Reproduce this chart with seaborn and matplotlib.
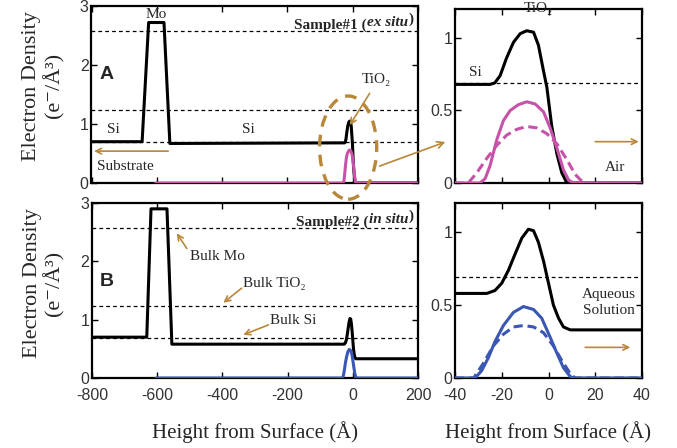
import matplotlib
matplotlib.use("Agg")
import matplotlib.pyplot as plt
import seaborn as sns
import pandas as pd
from matplotlib.patches import Ellipse, FancyArrowPatch

# ---------------- data ----------------
# Sample #1 (ex situ) total electron density profile
s1_x = [-800, -645, -625, -578, -560, -40, -25, -23, -20.7, -18, -15, -12.1, -9.3, -6.4,
        -4.3, -2.1, -0.7, 1.4, 3.6, 5.7, 7.9, 200]
s1_y = [0.70, 0.70, 2.72, 2.72, 0.67, 0.68, 0.68, 0.69, 0.74, 0.86, 0.97, 1.03, 1.05, 1.04,
        0.95, 0.77, 0.66, 0.39, 0.20, 0.07, 0.00, 0.00]
# Sample #1 TiO2 component (solid) and alternative model (dashed)
s1_ti_x = [-603, -29.3, -27.1, -25, -22.1, -19.3, -16.4, -12.9, -9.3, -5.7, -2.1, 0.7,
           3.6, 6.4, 8.6, 10.7, 200]
s1_ti_y = [0.00, 0.00, 0.03, 0.12, 0.30, 0.43, 0.50, 0.54, 0.56, 0.545, 0.49, 0.38,
           0.24, 0.09, 0.02, 0.00, 0.00]
s1_td_x = [-40, -34.3, -30.7, -26.4, -22.1, -17.9, -13.6, -9.3, -5.0, -0.7, 3.6, 7.9, 11.4, 15, 40]
s1_td_y = [0.00, 0.00, 0.07, 0.17, 0.26, 0.33, 0.37, 0.39, 0.38, 0.34, 0.27, 0.16, 0.06, 0.00, 0.00]

# Sample #2 (in situ)
s2_x = [-800, -632, -619, -570, -555, -40, -26.4, -22.9, -20, -17.1, -14.3, -11.4, -8.6,
        -6.4, -4.3, -2.1, 0, 2.1, 4.3, 6.4, 9.3, 200]
s2_y = [0.70, 0.70, 2.90, 2.90, 0.58, 0.58, 0.58, 0.60, 0.65, 0.74, 0.85, 0.96, 1.02,
        1.01, 0.93, 0.80, 0.65, 0.50, 0.41, 0.35, 0.33, 0.33]
s2_ti_x = [-603, -31.4, -28.6, -25.7, -22.9, -19.3, -15, -10.7, -6.4, -2.9, 0.7, 3.6,
           6.4, 9.3, 10.7, 200]
s2_ti_y = [0.00, 0.00, 0.05, 0.14, 0.25, 0.36, 0.45, 0.49, 0.47, 0.41, 0.28, 0.17,
           0.07, 0.01, 0.00, 0.00]
s2_td_x = [-40, -32, -27.9, -23.6, -19.3, -15, -10.7, -6.4, -2.1, 2.1, 5.7, 9.3, 11.4, 40]
s2_td_y = [0.00, 0.00, 0.10, 0.22, 0.30, 0.35, 0.36, 0.35, 0.31, 0.22, 0.12, 0.03, 0.00, 0.00]

# bulk reference densities (Mo, TiO2, Si)
bulk_levels = [2.58, 1.23, 0.69]

left_xticks = [-800, -600, -400, -200, 0, 200]
left_yticks = [0, 1, 2, 3]
right_xticks = [-40, -20, 0, 20, 40]
right_yticks = [0, 0.5, 1]

PINK = "#c653a8"
BLUE = "#3b57b4"
BROWN = "#b8873a"

sns.set_style("ticks")
plt.rcParams["font.family"] = ["Liberation Sans", "DejaVu Sans"]
plt.rcParams["axes.unicode_minus"] = False
SERIF = ["Liberation Serif", "DejaVu Serif"]

W, H = 677, 448
fig = plt.figure(figsize=(W / 100, H / 100), dpi=100)


def px_rect(l, t, r, b):
    return [l / W, 1 - b / H, (r - l) / W, (b - t) / H]


axA = fig.add_axes(px_rect(91.5, 6, 418, 183))
axB = fig.add_axes(px_rect(92, 203, 418, 378))
axA2 = fig.add_axes(px_rect(455, 9, 642, 183))
axB2 = fig.add_axes(px_rect(455, 203, 642, 378))


def draw(ax, x, y, color, ls="-", lw=2.2, z=3):
    df = pd.DataFrame({"x": x, "y": y})
    sns.lineplot(data=df, x="x", y="y", ax=ax, color=color, lw=lw, ls=ls,
                 estimator=None, sort=False, zorder=z)


for ax, tot, (tx, ty), (dx, dy), col in [
    (axA, (s1_x, s1_y), (s1_ti_x, s1_ti_y), (s1_td_x, s1_td_y), PINK),
    (axB, (s2_x, s2_y), (s2_ti_x, s2_ti_y), (s2_td_x, s2_td_y), BLUE),
]:
    for lvl in bulk_levels:
        ax.axhline(lvl, color="black", lw=0.9, ls=(0, (3, 2.5)), zorder=2)
    draw(ax, tot[0], tot[1], "black", lw=2.2, z=3)
    draw(ax, tx, ty, col, lw=2.2, z=4)
    ax.set_xlim(-800, 200)
    ax.set_ylim(0, 3)
    ax.set_xticks(left_xticks)
    ax.set_yticks(left_yticks)

for ax, tot, (tx, ty), (dx, dy), col in [
    (axA2, (s1_x, s1_y), (s1_ti_x, s1_ti_y), (s1_td_x, s1_td_y), PINK),
    (axB2, (s2_x, s2_y), (s2_ti_x, s2_ti_y), (s2_td_x, s2_td_y), BLUE),
]:
    for lvl in bulk_levels:
        ax.axhline(lvl, color="black", lw=0.9, ls=(0, (3, 2.5)), zorder=2)
    draw(ax, tot[0], tot[1], "black", lw=2.2, z=3)
    draw(ax, tx, ty, col, lw=2.2, z=4)
    draw(ax, dx, dy, col, ls=(0, (3, 1.6)), lw=2.2, z=4)
    ax.set_xlim(-40, 40)
    ax.set_ylim(0, 1.2)
    ax.set_xticks(right_xticks)
    ax.set_yticks(right_yticks)
    ax.set_yticklabels(["0", "0.5", "1"])

for ax in (axA, axB, axA2, axB2):
    ax.set_xlabel("")
    ax.set_ylabel("")
    ax.tick_params(direction="in", top=True, right=True, length=4, width=1,
                   labelsize=11.5, pad=2, colors="black", labelcolor="#333333")
    ax.tick_params(axis="x", pad=7)
    for sp in ax.spines.values():
        sp.set_linewidth(1.6)
        sp.set_color("black")
    ax.set_facecolor("white")

axA.tick_params(labelbottom=False)
axA2.tick_params(labelbottom=False)

# y labels
for ax in (axA, axB):
    ax.set_ylabel("Electron Density\n(e⁻/Å³)", family=SERIF, fontsize=16,
                  linespacing=1.1, labelpad=0)
axA.yaxis.set_label_coords(-0.083, 0.55)
axB.yaxis.set_label_coords(-0.083, 0.54)

# x labels
fig.text(255 / W, 1 - 432 / H, "Height from Surface (Å)", family=SERIF,
         fontsize=15, ha="center", va="center")
fig.text(548 / W, 1 - 432 / H, "Height from Surface (Å)", family=SERIF,
         fontsize=15, ha="center", va="center")

# panel letters
axA.text(-755, 1.84, "A", fontsize=14, fontweight="bold", ha="center", va="center")
axB.text(-755, 1.66, "B", fontsize=14, fontweight="bold", ha="center", va="center")


def sample_title(ax, prefix, ital):
    t1 = ax.text(0.985, 0.905, ")", transform=ax.transAxes, family=SERIF,
                 fontsize=11, fontweight="bold", ha="right", va="baseline")
    t2 = ax.annotate(ital, xy=(0, 0), xycoords=t1, family=SERIF, fontsize=11,
                     fontweight="bold", fontstyle="italic", ha="right", va="baseline")
    ax.annotate(prefix, xy=(0, 0), xycoords=t2, family=SERIF, fontsize=11,
                fontweight="bold", ha="right", va="baseline")


sample_title(axA, "Sample#1 (", "ex situ")
sample_title(axB, "Sample#2 (", "in situ")

tkw = dict(family=SERIF, fontsize=11, ha="center", va="center")
akw = dict(arrowstyle="->", color=BROWN, lw=1.2, shrinkA=0, shrinkB=0)

# panel A annotations
axA.text(-603, 2.86, "Mo", zorder=2, **tkw)
axA.text(-734, 0.9, "Si", **tkw)
axA.text(-320, 0.9, "Si", **tkw)
axA.text(-782, 0.28, "Substrate", family=SERIF, fontsize=11, ha="left", va="center")
axA.annotate("", xy=(-792, 0.54), xytext=(-565, 0.54), arrowprops=akw)
axA.text(72, 1.75, "TiO₂", **tkw)
axA.annotate("", xy=(-9, 0.98), xytext=(52, 1.52), arrowprops=akw)
ell = Ellipse((-14, 0.6), 175, 1.75, fill=False, ec=BROWN, lw=2.4,
              ls=(0, (3.5, 2.5)), clip_on=False, zorder=5)
axA.add_patch(ell)

# arrow from ellipse to zoom panel
fig.add_artist(FancyArrowPatch((377 / W, 1 - 167 / H), (448 / W, 1 - 141 / H),
                               transform=fig.transFigure, arrowstyle="->",
                               mutation_scale=12, color=BROWN, lw=1.2))

# panel B annotations
axB.text(-499, 2.08, "Bulk Mo", family=SERIF, fontsize=11, ha="left", va="center")
axB.annotate("", xy=(-540, 2.48), xytext=(-509, 2.22), arrowprops=akw)
axB.text(-336, 1.62, "Bulk TiO₂", family=SERIF, fontsize=11, ha="left", va="center")
axB.annotate("", xy=(-397, 1.29), xytext=(-341, 1.54), arrowprops=akw)
axB.text(-254, 0.98, "Bulk Si", family=SERIF, fontsize=11, ha="left", va="center")
axB.annotate("", xy=(-336, 0.74), xytext=(-259, 0.91), arrowprops=akw)

# zoom panel annotations
axA2.text(-4.4, 1.2, "TiO₂", **tkw)
axA2.text(-31.4, 0.76, "Si", **tkw)
axA2.text(28.6, 0.11, "Air", **tkw)
axA2.annotate("", xy=(38.6, 0.285), xytext=(20, 0.285), arrowprops=akw)
axB2.text(25.7, 0.52, "Aqueous\nSolution", linespacing=1.3, **tkw)
axB2.annotate("", xy=(35, 0.21), xytext=(15.7, 0.21), arrowprops=akw)

fig.savefig("out.png", dpi=100, facecolor="white")
